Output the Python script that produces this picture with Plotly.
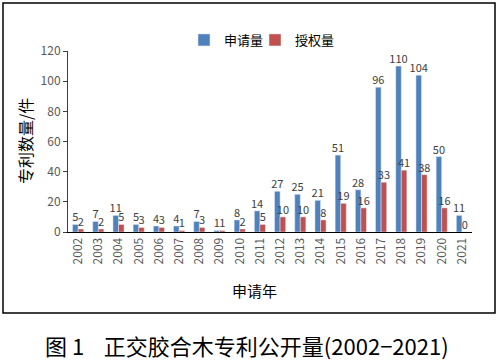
import plotly.graph_objects as go

years = [str(y) for y in range(2002, 2022)]
applied = [5, 7, 11, 5, 4, 4, 7, 1, 8, 14, 27, 25, 21, 51, 28, 96, 110, 104, 50, 11]
granted = [2, 2, 5, 3, 3, 1, 3, 1, 2, 5, 10, 10, 8, 19, 16, 33, 41, 38, 16, 0]
y_ticks = [0, 20, 40, 60, 80, 100, 120]

FONT = "Noto Sans CJK SC"
L, R, T, B = 68, 28, 51, 132
W, H = 500, 364
pw, ph = W - L - R, H - T - B

def px(x):
    return (x - L) / pw

def py(y):
    return (H - B - y) / ph

fig = go.Figure()
fig.add_bar(x=years, y=applied, name="申请量", marker_color="#4F81BD", legend="legend",
            text=applied, textposition="outside", cliponaxis=False, constraintext="none",
            textfont=dict(size=11, color="#404040", family=FONT))
fig.add_bar(x=years, y=granted, name="授权量", marker_color="#C0504D", legend="legend2",
            text=granted, textposition="outside", cliponaxis=False, constraintext="none",
            textfont=dict(size=11, color="#404040", family=FONT))

leg_common = dict(orientation="h", yanchor="middle", xanchor="left",
                  font=dict(size=13, color="#000000", family=FONT),
                  itemwidth=30, bgcolor="rgba(0,0,0,0)")

fig.update_layout(
    width=W, height=H,
    margin=dict(l=L, r=R, t=T, b=B, autoexpand=False),
    paper_bgcolor="white", plot_bgcolor="white",
    barmode="group", bargap=0.45, bargroupgap=0,
    font=dict(family=FONT, color="#404040"),
    showlegend=True,
    legend=dict(x=px(184), y=py(40), **leg_common),
    legend2=dict(x=px(255), y=py(40), **leg_common),
    xaxis=dict(type="category", tickangle=-90, showline=True, linecolor="#000000",
               linewidth=1, ticks="", showgrid=False, automargin=False,
               tickfont=dict(size=12, color="#595959", family=FONT)),
    yaxis=dict(range=[0, 120], tickvals=y_ticks, showline=True, linecolor="#404040",
               linewidth=1, ticks="outside", ticklen=4, tickcolor="#404040",
               showgrid=False, zeroline=False, automargin=False,
               tickfont=dict(size=12, color="#595959", family=FONT)),
    shapes=[dict(type="rect", xref="paper", yref="paper",
                 x0=px(3), x1=px(495), y0=py(313), y1=py(3),
                 line=dict(color="#000000", width=1.5))],
    annotations=[
        dict(text="专利数量/件", xref="paper", yref="paper", x=px(25), y=py(141),
             xanchor="center", yanchor="middle",
             textangle=-90, showarrow=False, font=dict(size=16, color="#000000", family=FONT)),
        dict(text="申请年", xref="paper", yref="paper", x=px(254), y=py(290),
             xanchor="center", yanchor="middle",
             showarrow=False, font=dict(size=15, color="#000000", family=FONT)),
        dict(text="图 1    正交胶合木专利公开量(2002−2021)", xref="paper", yref="paper",
             x=px(247), y=py(345), xanchor="center", yanchor="middle", showarrow=False,
             font=dict(size=22, color="#000000", family=FONT)),
    ],
)

fig.write_html("out.html", config={"displayModeBar": False},
               post_script="document.body.style.margin='0';document.body.style.overflow='hidden';")
